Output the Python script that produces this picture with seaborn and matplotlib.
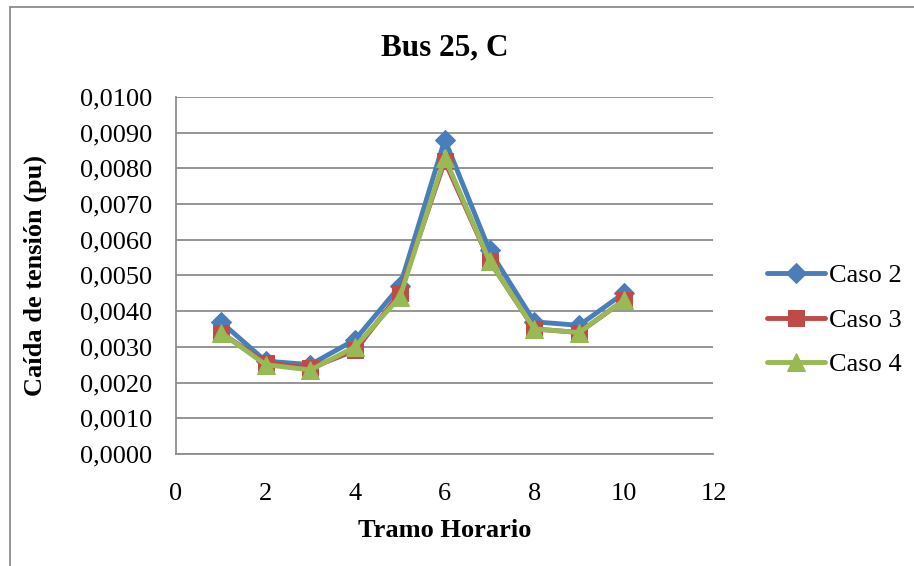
import matplotlib
matplotlib.use("Agg")
import matplotlib.pyplot as plt
from matplotlib.ticker import FuncFormatter, MultipleLocator
from matplotlib.patches import Rectangle
import seaborn as sns
import pandas as pd

# datos
tramo = [1, 2, 3, 4, 5, 6, 7, 8, 9, 10]
caso_2 = [0.0037, 0.0026, 0.0025, 0.0032, 0.0047, 0.0088, 0.0057, 0.0037, 0.0036, 0.0045]
caso_3 = [0.0034, 0.00255, 0.0024, 0.0029, 0.0045, 0.0082, 0.0054, 0.0035, 0.0034, 0.0043]
caso_4 = [0.0034, 0.0025, 0.00235, 0.0030, 0.0044, 0.0083, 0.0054, 0.0035, 0.0034, 0.0043]

series = {"Caso 2": caso_2, "Caso 3": caso_3, "Caso 4": caso_4}
colores = {"Caso 2": "#4A7EBB", "Caso 3": "#BE4B48", "Caso 4": "#98B954"}
marcadores = {"Caso 2": "D", "Caso 3": "s", "Caso 4": "^"}
tam_marc = {"Caso 2": 10, "Caso 3": 11, "Caso 4": 13}

sns.set_theme(style="white")
plt.rcParams["font.family"] = ["Liberation Serif", "DejaVu Serif"]
plt.rcParams["text.color"] = "black"
plt.rcParams["axes.labelcolor"] = "black"
plt.rcParams["xtick.color"] = "black"
plt.rcParams["ytick.color"] = "black"

fig = plt.figure(figsize=(9.14, 5.66), dpi=100)
ax = fig.add_axes([0.1926, 0.198, 0.588, 0.631])

for nombre, valores in series.items():
    df = pd.DataFrame({"Tramo": tramo, "Caida": valores})
    sns.lineplot(data=df, x="Tramo", y="Caida", ax=ax, color=colores[nombre],
                 marker=marcadores[nombre], markersize=tam_marc[nombre],
                 markeredgecolor=colores[nombre], linewidth=3.5, label=nombre)

ax.set_xlim(0, 12)
ax.set_ylim(0, 0.01)
ax.xaxis.set_major_locator(MultipleLocator(2))
ax.yaxis.set_major_locator(MultipleLocator(0.001))
ax.yaxis.set_major_formatter(FuncFormatter(lambda v, p: f"{v:.4f}".replace(".", ",")))
ax.tick_params(labelsize=19, length=0)
ax.tick_params(axis="y", pad=17)
ax.tick_params(axis="x", pad=21)
ax.grid(axis="y", color="#8c8c8c", linewidth=1.3)
for lado in ["top", "right"]:
    ax.spines[lado].set_visible(False)
for lado in ["left", "bottom"]:
    ax.spines[lado].set_color("#8c8c8c")
    ax.spines[lado].set_linewidth(1.3)

ax.set_title("Bus 25, C", fontsize=22.5, fontweight="bold", pad=30)
ax.set_xlabel("Tramo Horario", fontsize=19, fontweight="bold", labelpad=10)
ax.set_ylabel("Caída de tensión (pu)", fontsize=19, fontweight="bold", labelpad=24)

ax.legend(loc="center left", bbox_to_anchor=(1.08, 0.375), frameon=False,
          fontsize=19, handlelength=2.2, handletextpad=0.15, labelspacing=0.8,
          borderaxespad=0)

# marco exterior del grafico
fig.patches.append(Rectangle((0.011, -0.01), 1.1, 0.998, transform=fig.transFigure,
                             fill=False, edgecolor="#8c8c8c", linewidth=1.3))

fig.savefig("out.png", dpi=100)
